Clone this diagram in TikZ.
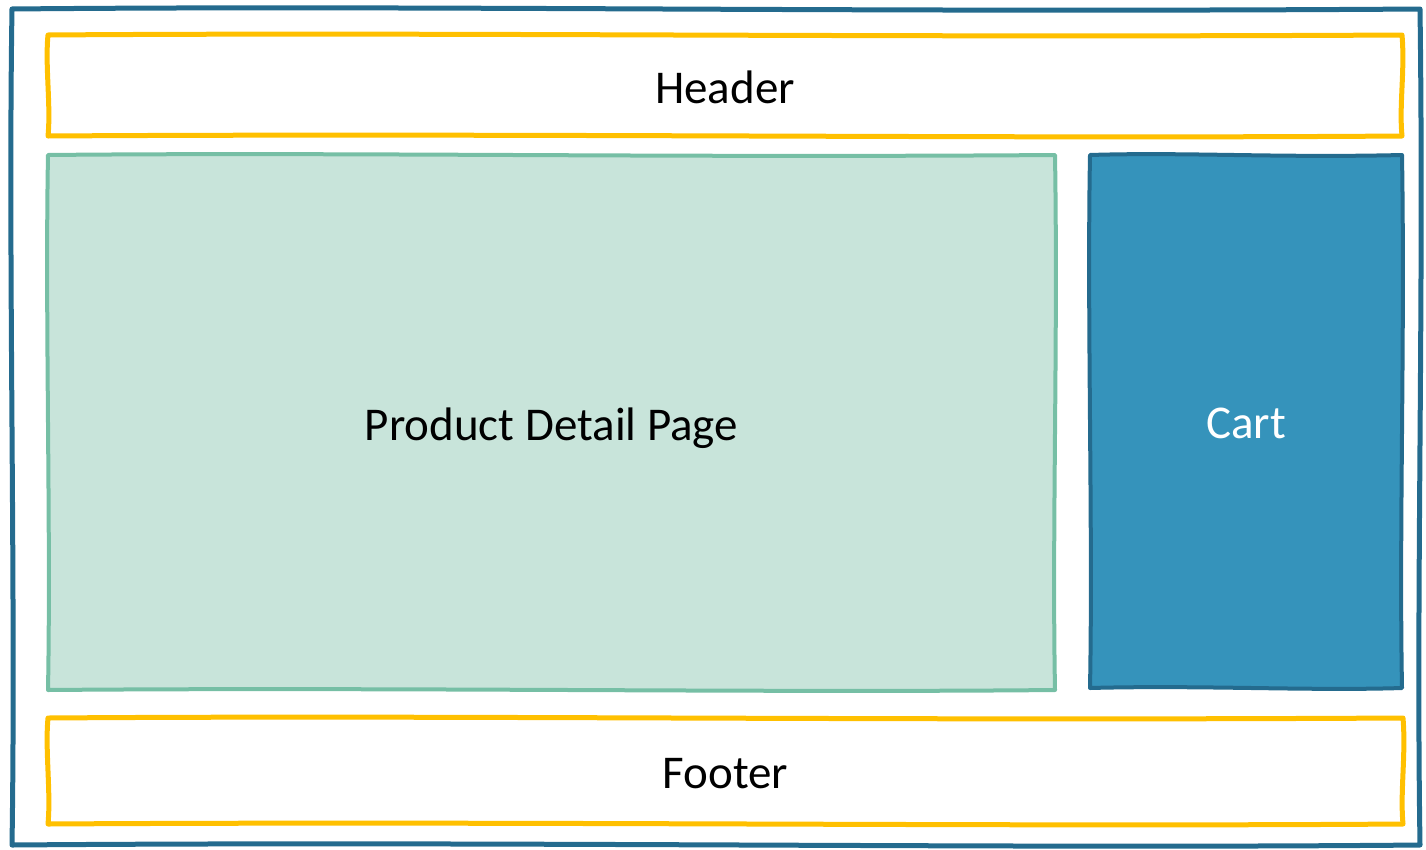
\documentclass[tikz,border=0pt]{standalone}
\usepackage{fontspec}
\setmainfont{Carlito}
\usetikzlibrary{calc}
\definecolor{frameblue}{RGB}{36,107,142}
\definecolor{cartfill}{RGB}{53,147,187}
\definecolor{bandyellow}{RGB}{255,192,0}
\definecolor{pdpline}{RGB}{118,191,165}
\definecolor{pdpfill}{RGB}{200,228,218}
\tikzset{
  box/.style={inner sep=0pt, outer sep=0pt},
  label text/.style={inner sep=0pt, text depth=0pt, yshift=-2pt, font=\fontsize{47}{56}\selectfont},
  sketchline/.style={line join=round, line cap=round},
  band/.style={sketchline, draw=bandyellow, line width=5pt, fill=white},
}
% hand-drawn border around a named node: #1 node, #2 draw style, #3 wobble
\newcommand\sketchborder[3]{%
  \path[#2]
    (#1.north west)
      .. controls ($(#1.north west)!0.3!(#1.north east)+(0,-#3)$)
             and ($(#1.north west)!0.6!(#1.north east)+(0,#3)$) .. (#1.north east)
      .. controls ($(#1.north east)!0.35!(#1.south east)+(#3,0)$)
             and ($(#1.north east)!0.7!(#1.south east)+(-#3,0)$) .. (#1.south east)
      .. controls ($(#1.south east)!0.3!(#1.south west)+(0,#3)$)
             and ($(#1.south east)!0.65!(#1.south west)+(0,-#3)$) .. (#1.south west)
      .. controls ($(#1.south west)!0.3!(#1.north west)+(#3,0)$)
             and ($(#1.south west)!0.7!(#1.north west)+(-#3,0)$) .. cycle;}
\begin{document}
\begin{tikzpicture}[x=1pt, y=-1pt]
  \useasboundingbox (0,0) rectangle (1426,849);
  % outer page frame
  \node[box, minimum width=1408pt, minimum height=836pt] (page) at (716,427) {};
  \sketchborder{page}{sketchline, draw=frameblue, line width=5pt}{4}
  % header and footer bands
  \node[box, minimum width=1354pt, minimum height=101pt] (header) at (725,85.5) {};
  \sketchborder{header}{band}{3}
  \node[label text] (headertext) at (header) {Header};
  \node[box, minimum width=1355pt, minimum height=106pt] (footer) at (725.5,771) {};
  \sketchborder{footer}{band}{3}
  \node[label text] (footertext) at (footer) {Footer};
  % main content area
  \node[box, minimum width=1007pt, minimum height=535pt] (pdp) at (551.5,422.5) {};
  \sketchborder{pdp}{sketchline, draw=pdpline, fill=pdpfill, line width=4pt}{3}
  \node[label text] (pdptext) at (pdp) {Product Detail Page};
  % shopping cart column
  \node[box, minimum width=312pt, minimum height=533pt] (cart) at (1246,421.5) {};
  \sketchborder{cart}{sketchline, draw=frameblue, fill=cartfill, line width=4pt}{3}
  \node[label text, text=white] (carttext) at (cart) {Cart};
\end{tikzpicture}
\end{document}
